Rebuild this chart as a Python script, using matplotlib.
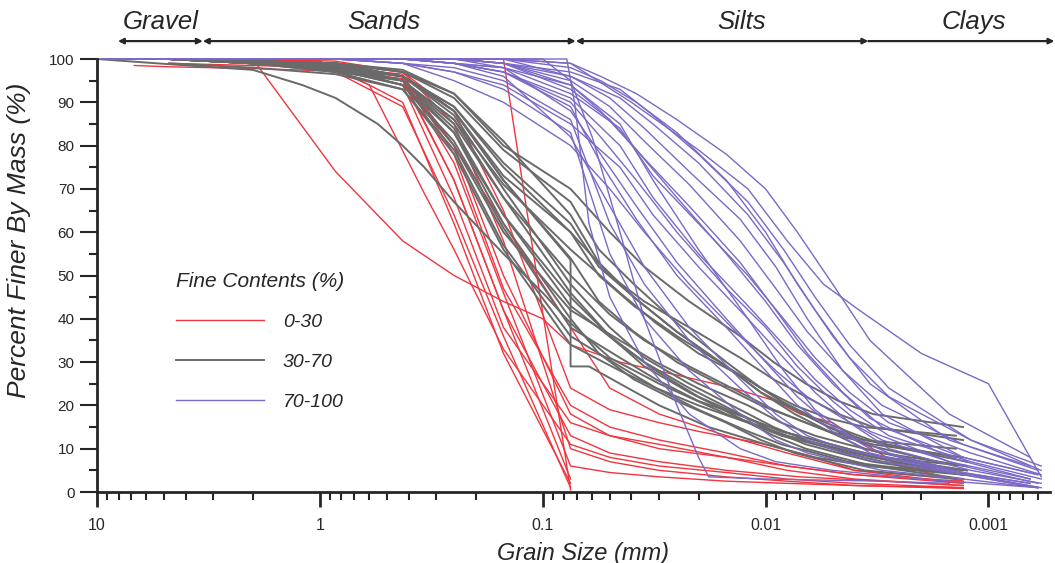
import matplotlib
matplotlib.use("Agg")
import matplotlib.pyplot as plt
from matplotlib.ticker import FixedLocator, FixedFormatter, NullFormatter, LogLocator, MultipleLocator

plt.rcParams['font.family'] = ['Liberation Sans', 'DejaVu Sans']

# grain size classes (boundaries in mm, label centres in mm)
zone_names = ['Gravel', 'Sands', 'Silts', 'Clays']
zone_edges = [8.05, 3.35, 0.0711, 0.00346, 0.000506]
zone_label_mm = [5.16, 0.516, 0.0128, 0.00116]

# ---------------- 0-30 % fines ----------------
red_mm = [
    [6.8, 4.75, 2.0, 0.85, 0.425, 0.25, 0.15, 0.075, 0.05, 0.03, 0.015, 0.007, 0.003, 0.0013],
    [2.0, 0.85, 0.425, 0.25, 0.15, 0.1, 0.075, 0.045, 0.025, 0.014, 0.009, 0.007, 0.005, 0.0038, 0.0025, 0.0013],
    [1.1, 0.6, 0.425, 0.25, 0.15, 0.075],
    [2.0, 1.0, 0.6, 0.34, 0.25, 0.15, 0.075, 0.05, 0.03, 0.015, 0.008, 0.004, 0.0013],
    [2.0, 0.85, 0.425, 0.25, 0.15, 0.075],
    [0.15, 0.11, 0.075],
    [4.75, 2.0, 0.85, 0.425, 0.25, 0.15, 0.075, 0.05, 0.03, 0.015, 0.008, 0.004, 0.0013],
    [4.75, 2.0, 0.85, 0.425, 0.25, 0.15, 0.075, 0.05, 0.03, 0.015, 0.008, 0.004, 0.0013],
    [2.0, 0.85, 0.425, 0.25, 0.15, 0.075],
    [2.0, 0.85, 0.425, 0.25, 0.15, 0.075, 0.05, 0.03, 0.015, 0.008, 0.004, 0.0013],
    [2.0, 0.85, 0.425, 0.25, 0.15, 0.075, 0.05, 0.03, 0.02, 0.01, 0.006, 0.004, 0.0013],
    [4.75, 2.0, 0.85, 0.425, 0.25, 0.15, 0.075, 0.05, 0.03, 0.015, 0.008, 0.004, 0.0013],
    [2.0, 0.85, 0.425, 0.25, 0.15, 0.075, 0.05, 0.03, 0.015, 0.008, 0.004, 0.0013],
    [2.0, 0.85, 0.425, 0.25, 0.15, 0.075, 0.05, 0.03, 0.015, 0.008, 0.004, 0.0013],
]
red_pct = [
    [98.5, 98.2, 97.8, 97.2, 95.5, 72, 42, 13, 9, 7, 5, 3.5, 2.5, 1.5],
    [100, 74, 58, 50, 44, 40, 34, 30, 27, 24, 21, 18, 16, 12, 6, 2.5],
    [100, 94, 90, 62, 32, 2],
    [100, 99.5, 94, 69, 56, 33, 11, 8, 6, 4.5, 3, 2, 1],
    [100, 97, 89, 64, 36, 1],
    [100, 55, 0.5],
    [100, 99.5, 99, 96, 80, 50, 18, 13, 10, 8, 6, 4, 2.5],
    [100, 99.5, 99, 97, 85, 58, 10, 7, 5, 3.5, 2.5, 1.5, 0.8],
    [100, 99, 95, 72, 42, 3],
    [100, 98, 94, 68, 38, 16, 13, 11, 8, 5, 3, 1.5],
    [100, 99.5, 97, 88, 65, 24, 19, 16, 14, 11, 8, 5, 3],
    [99, 98.5, 98, 96.5, 78, 47, 20, 15, 12, 9, 6, 4, 2],
    [100, 99, 96, 76, 46, 6, 4.5, 3.5, 2.5, 2, 1.5, 1],
    [100, 98.5, 95, 80, 62, 38, 24, 18, 13, 9, 5, 2],
]

# ---------------- 30-70 % fines ----------------
sieve_mm = [4.75, 2.0, 0.85, 0.425, 0.25, 0.15, 0.075]
hyd_a = [0.05, 0.035, 0.022, 0.013, 0.0092, 0.0066, 0.0047, 0.0033, 0.0013]
hyd_b = [0.056, 0.039, 0.025, 0.015, 0.0105, 0.0074, 0.0052, 0.0036, 0.0014]
hyd_c = [0.045, 0.031, 0.02, 0.012, 0.0085, 0.006, 0.0043, 0.003, 0.00125]

gray_sieve = [
    [100, 99.5, 99, 97.5, 92, 80, 70],
    [100, 99.5, 99, 96, 88, 73, 60],
    [100, 99, 97.5, 94, 80, 60, 42],
    [100, 99, 98, 95, 85, 68, 50],
    [100, 99.5, 98.5, 96, 89, 76, 62],
    [99, 98, 96.5, 93, 78, 56, 34],
    [100, 99, 97.5, 94, 83, 64, 45],
    [100, 99.5, 99, 97, 91, 79, 67],
    [100, 99, 98, 95, 86, 71, 56],
    [100, 99, 98, 96, 87, 70, 48],
    [100, 99.5, 98, 95, 83, 62, 40],
    [100, 99, 97, 93, 79, 57, 36],
    [100, 99, 98, 96, 89, 75, 60],
    [100, 99.5, 99, 97, 92, 81, 64],
    [100, 99, 98, 94, 81, 61, 38],
    [100, 99.5, 98.5, 95, 86, 68, 46],
    [100, 99, 98, 96, 88, 72, 54],
    [100, 99, 97, 95, 84, 64, 43],
]
gray_hyd = [
    [60, 52, 44, 36, 30, 25, 21, 18, 15],
    [50, 43, 36, 29, 24, 20, 17, 15, 13],
    [35, 30, 25, 20, 16, 13, 11, 9, 6],
    [41, 35, 29, 23, 19, 16, 13, 11, 8],
    [52, 45, 37, 29, 23, 19, 15, 12, 8],
    [28, 24, 20, 16, 13, 11, 9, 7, 5],
    [36, 30, 24, 18, 14, 11, 9, 7, 4],
    [56, 48, 39, 30, 24, 19, 15, 11, 6],
    [46, 39, 32, 26, 21, 17, 14, 11, 7],
    [38, 31, 25, 19, 15, 12, 10, 8, 4],
    [32, 26, 21, 16, 12, 9, 7, 5, 3],
    [29, 24, 19, 14, 11, 9, 7, 6, 4],
    [50, 44, 38, 31, 26, 22, 18, 15, 12],
    [53, 45, 37, 29, 23, 18, 14, 10, 5],
    [31, 26, 21, 17, 14, 12, 10, 8, 6],
    [36, 29, 23, 17, 13, 10, 8, 6, 3],
    [44, 37, 30, 24, 20, 17, 14, 12, 10],
    [34, 28, 22, 17, 14, 12, 10, 8, 5],
]
gray_hyd_set = ['a', 'b', 'c', 'a', 'b', 'c', 'a', 'b', 'c',
                'a', 'b', 'c', 'a', 'b', 'c', 'a', 'b', 'c']

gray_extra_mm = [
    [10, 4.75, 2.0, 1.2, 0.85, 0.55, 0.425, 0.34, 0.25, 0.15, 0.1, 0.075,
     0.05, 0.03, 0.015, 0.008, 0.004, 0.0013],
    [4.75, 2.0, 0.85, 0.425, 0.25, 0.15, 0.075, 0.075, 0.062, 0.045, 0.03,
     0.018, 0.01, 0.006, 0.0035, 0.0013],
]
gray_extra_pct = [
    [100, 98.8, 97.5, 94, 91, 85, 80, 75, 67, 55, 46, 39, 31, 25, 18, 13, 9, 5],
    [100, 99.5, 99, 96, 88, 72, 53.6, 29, 29, 25, 20, 15, 11, 8, 6, 4],
]

# ---------------- 70-100 % fines ----------------
p_sieve_mm = [9.5, 4.75, 2.0, 0.85, 0.425, 0.25, 0.15, 0.075]
p_hyd_a = [0.05, 0.035, 0.022, 0.013, 0.009, 0.0065, 0.0045, 0.003, 0.0013, 0.0006]
p_hyd_b = [0.055, 0.038, 0.025, 0.015, 0.01, 0.0072, 0.005, 0.0034, 0.0015, 0.00065]
p_hyd_c = [0.045, 0.032, 0.02, 0.012, 0.0083, 0.006, 0.0042, 0.0028, 0.0012, 0.00058]

purple_sieve = [
    [100, 100, 100, 100, 100, 100, 100, 96],
    [100, 100, 100, 100, 100, 99, 97, 90],
    [100, 100, 100, 100, 99, 97, 94, 85],
    [100, 100, 100, 100, 100, 100, 99, 93],
    [100, 100, 100, 100, 100, 99, 98, 88],
    [100, 100, 100, 100, 100, 100, 99, 97],
    [100, 100, 100, 100, 100, 99, 96, 82],
    [100, 100, 100, 100, 100, 100, 100, 98],
    [100, 100, 100, 100, 100, 99, 97, 91],
    [100, 100, 100, 100, 99, 98, 95, 86],
    [100, 100, 100, 100, 100, 100, 98, 94],
    [100, 100, 100, 100, 100, 99, 98, 92],
    [100, 100, 100, 100, 100, 100, 99, 95],
    [100, 100, 100, 100, 100, 99, 97, 89],
    [100, 100, 100, 100, 100, 100, 99, 96],
    [100, 100, 100, 100, 99, 97, 93, 83],
    [100, 100, 100, 100, 100, 100, 100, 99],
    [100, 100, 100, 100, 100, 100, 99, 94],
]
purple_hyd = [
    [91, 84, 74, 63, 52, 40, 28, 18, 8, 4],
    [82, 72, 60, 47, 38, 29, 21, 14, 7, 3],
    [75, 64, 52, 40, 31, 23, 16, 10, 5, 2],
    [86, 77, 66, 53, 42, 32, 23, 15, 8, 4],
    [78, 66, 53, 40, 30, 22, 15, 10, 5, 2],
    [93, 87, 78, 67, 56, 45, 34, 24, 12, 5],
    [66, 52, 38, 26, 18, 13, 10, 8, 4, 1],
    [95, 90, 83, 72, 60, 48, 36, 25, 12, 6],
    [80, 68, 55, 43, 34, 26, 19, 13, 7, 3],
    [62, 48, 35, 24, 17, 12, 9, 7, 4, 1],
    [88, 79, 68, 55, 44, 34, 25, 17, 8, 3],
    [84, 73, 62, 50, 40, 31, 23, 16, 9, 4],
    [89, 81, 71, 58, 47, 37, 28, 20, 11, 5],
    [76, 63, 50, 38, 28, 20, 14, 9, 5, 2],
    [91, 85, 76, 64, 53, 42, 31, 22, 12, 6],
    [55, 40, 28, 18, 12, 9, 7, 5, 3, 1],
    [96, 92, 86, 78, 70, 60, 48, 35, 18, 8],
    [85, 72, 56, 40, 28, 19, 13, 9, 4, 1],
]
purple_hyd_set = ['a', 'b', 'c', 'a', 'b', 'c', 'a', 'b', 'c',
                  'a', 'b', 'c', 'a', 'b', 'c', 'a', 'b', 'c']

purple_extra_mm = [
    [9.5, 0.15, 0.075, 0.04, 0.02, 0.012, 0.008, 0.0055, 0.0038, 0.002, 0.001, 0.00058],
    [9.5, 0.15, 0.1, 0.075, 0.06, 0.045, 0.035, 0.025, 0.02, 0.018, 0.01, 0.003, 0.0015],
    [9.5, 0.15, 0.078, 0.072, 0.062, 0.05, 0.035, 0.022, 0.013, 0.009, 0.005, 0.002, 0.0006],
    [9.5, 0.85, 0.425, 0.25, 0.15, 0.075, 0.05, 0.035, 0.022, 0.013, 0.009, 0.0065,
     0.0045, 0.003, 0.0013, 0.0006],
]
purple_extra_pct = [
    [100, 100, 99, 90, 79, 70, 58, 48, 42, 32, 25, 3.5],
    [100, 100, 100, 95, 82, 60, 40, 20, 8, 3.5, 3, 2.5, 2],
    [100, 100, 100, 90, 62, 45, 30, 18, 10, 7, 5, 3, 1],
    [100, 100, 99, 95, 90, 80, 70, 60, 48, 36, 28, 22, 17, 12, 6, 2],
]

RED = '#f0353f'
GRAY = '#6a6a6a'
PURPLE = '#7c68c6'
DARK = '#262626'

fig = plt.figure(figsize=(10.55, 5.63), dpi=100)
ax = fig.add_axes([0.0919, 0.1261, 0.9033, 0.7691])

hyd_sets = {'a': hyd_a, 'b': hyd_b, 'c': hyd_c}
p_hyd_sets = {'a': p_hyd_a, 'b': p_hyd_b, 'c': p_hyd_c}

for i, (x, y) in enumerate(zip(red_mm, red_pct)):
    ax.plot(x, y, color=RED, lw=1.0, clip_on=False, label='0-30' if i == 0 else None)

for i, (s, h) in enumerate(zip(gray_sieve, gray_hyd)):
    ax.plot(sieve_mm + hyd_sets[gray_hyd_set[i]], s + h, color=GRAY, lw=1.4,
            clip_on=False, label='30-70' if i == 0 else None)
for x, y in zip(gray_extra_mm, gray_extra_pct):
    ax.plot(x, y, color=GRAY, lw=1.4, clip_on=False)

for i, (s, h) in enumerate(zip(purple_sieve, purple_hyd)):
    ax.plot(p_sieve_mm + p_hyd_sets[purple_hyd_set[i]], s + h, color=PURPLE, lw=1.0,
            clip_on=False, label='70-100' if i == 0 else None)
for x, y in zip(purple_extra_mm, purple_extra_pct):
    ax.plot(x, y, color=PURPLE, lw=1.0, clip_on=False)

# axes
ax.set_xscale('log')
ax.set_xlim(10, 0.00053)
ax.set_ylim(0, 100)
ax.xaxis.set_major_locator(FixedLocator([10, 1, 0.1, 0.01, 0.001]))
ax.xaxis.set_major_formatter(FixedFormatter(['10', '1', '0.1', '0.01', '0.001']))
ax.xaxis.set_minor_locator(LogLocator(base=10, subs=range(2, 10), numticks=20))
ax.xaxis.set_minor_formatter(NullFormatter())
ax.yaxis.set_major_locator(MultipleLocator(10))
ax.yaxis.set_minor_locator(MultipleLocator(5))

for side in ['top', 'right']:
    ax.spines[side].set_visible(False)
for side in ['left', 'bottom']:
    ax.spines[side].set_linewidth(2)
    ax.spines[side].set_color(DARK)

ax.tick_params(axis='x', which='major', length=11, width=2, color=DARK, pad=8,
               labelsize=11.5, labelcolor=DARK)
ax.tick_params(axis='x', which='minor', length=6, width=1.5, color=DARK)
ax.tick_params(axis='y', which='major', length=12, width=1.5, color=DARK, pad=4,
               labelsize=11, labelcolor=DARK)
ax.tick_params(axis='y', which='minor', length=6, width=1.5, color=DARK)

ax.set_xlabel('Grain Size (mm)', fontsize=17, style='italic', color=DARK)
ax.xaxis.set_label_coords(0.51, -0.115)
ax.set_ylabel('Percent Finer By Mass (%)', fontsize=19, style='italic', color=DARK)
ax.yaxis.set_label_coords(-0.069, 0.582)

leg = ax.legend(loc='upper left', bbox_to_anchor=(0.083, 0.509), frameon=False,
                title='Fine Contents (%)', alignment='left', handlelength=4.5,
                handletextpad=1.0, labelspacing=1.15, borderpad=0, borderaxespad=0,
                prop={'size': 14, 'style': 'italic'})
leg.get_title().set_fontsize(15)
leg.get_title().set_style('italic')
leg.get_title().set_color(DARK)
for t in leg.get_texts():
    t.set_color(DARK)

# soil class arrows above the plot
arrow_y = 0.927
for i, name in enumerate(zone_names):
    style = '<|-' if i == len(zone_names) - 1 else '<|-|>'
    ax.annotate('', xy=(zone_edges[i], arrow_y), xytext=(zone_edges[i + 1], arrow_y),
                xycoords=('data', 'figure fraction'), textcoords=('data', 'figure fraction'),
                annotation_clip=False,
                arrowprops=dict(arrowstyle=style, color=DARK, lw=1.6,
                                mutation_scale=8, shrinkA=0, shrinkB=0))
    ax.annotate(name, xy=(zone_label_mm[i], 0.961), xycoords=('data', 'figure fraction'),
                ha='center', va='center', fontsize=18.5, style='italic', color=DARK,
                annotation_clip=False)

fig.savefig('out.png', dpi=100)
